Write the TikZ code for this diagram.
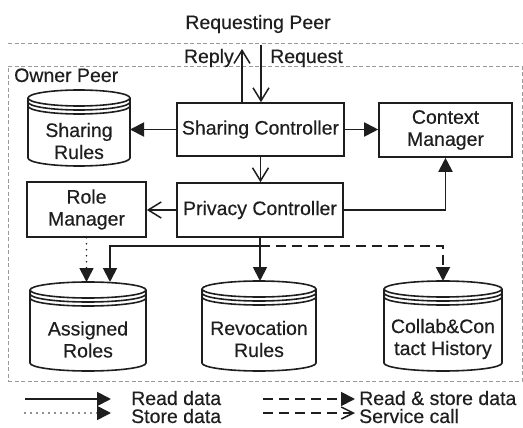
\documentclass[tikz,border=0pt]{standalone}
\usepackage{fontspec}
\setmainfont{Liberation Sans}[FakeBold=0.4]
\usetikzlibrary{arrows.meta}
\definecolor{ink}{HTML}{1E1E1E}
\definecolor{frame}{HTML}{9A9A9A}
\tikzset{
  txt/.style={font=\fontsize{19.5}{22}\selectfont, text=ink, inner sep=0pt, align=center},
  box/.style={draw=ink, line width=1.6pt, inner sep=0pt, font=\fontsize{19.5}{22}\selectfont, text=ink, align=center},
  dbnode/.style={draw=none, inner sep=0pt, outer sep=0pt},
  dbline/.style={draw=ink, line width=1.6pt},
  fillarrow/.style={draw=ink, line width=1.9pt, -{Triangle[length=14pt,width=14pt]}},
  openarrow/.style={draw=ink, line width=1.5pt, -{Straight Barb[length=13pt,width=16pt]}},
  plainline/.style={draw=ink, line width=1.9pt},
  dashline/.style={draw=ink, line width=1.9pt, dash pattern=on 10pt off 6pt},
  dotline/.style={draw=ink, line width=1.7pt, line cap=round, dash pattern=on 0pt off 6pt},
  framedash/.style={draw=frame, line width=0.7pt, dash pattern=on 4pt off 2.5pt},
}
\newcommand\dbcyl[6]{%
  \node[dbnode, minimum width=#4pt, minimum height=#5pt] (#1) at (#2,#3) {};
  \draw[dbline] ([yshift=-8pt]#1.north) ellipse [x radius={#4*0.5pt}, y radius=8pt];
  \draw[dbline] ([yshift=-12pt]#1.north west) arc [start angle=180, end angle=360, x radius={#4*0.5pt}, y radius=8pt];
  \draw[dbline] ([yshift=-16pt]#1.north west) arc [start angle=180, end angle=360, x radius={#4*0.5pt}, y radius=8pt];
  \draw[dbline] ([yshift=-8pt]#1.north west) -- ([yshift=8pt]#1.south west)
     arc [start angle=180, end angle=360, x radius={#4*0.5pt}, y radius=8pt] -- ([yshift=-8pt]#1.north east);
  \node[txt] (#1-t) at ([yshift=-13pt]#1.center) {#6};
}
\begin{document}
\begin{tikzpicture}[x=1pt,y=-1pt]
\useasboundingbox (0,0) rectangle (523,428);

% frames
\coordinate (sepL) at (8,43);
\coordinate (sepR) at (523,43);
\draw[framedash] (sepL) -- (sepR);
\node[draw=frame, line width=0.7pt, dash pattern=on 4pt off 2.5pt, minimum width=514pt, minimum height=315pt, inner sep=0pt] (owner) at (265,223.5) {};

% labels
\node[txt, anchor=base] (reqpeer) at (258,29) {Requesting Peer};
\node[txt, anchor=base west] (ownerlbl) at (14,82) {Owner Peer};
\node[txt, anchor=base east] (replylbl) at (234,63) {Reply};
\node[txt, anchor=base west] (requestlbl) at (270,63) {Request};

% boxes
\node[box, minimum width=167pt, minimum height=53pt] (SC) at (260.5,129.5) {Sharing Controller};
\node[box, minimum width=133pt, minimum height=54pt] (CM) at (445.5,130) {Context\\Manager};
\node[box, minimum width=166pt, minimum height=54pt] (PC) at (260,210) {Privacy Controller};
\node[box, minimum width=119pt, minimum height=55pt] (RM) at (86.5,209.5) {Role\\Manager};

% cylinders
\dbcyl{SR}{79}{128}{102}{76}{Sharing\\Rules}
\dbcyl{AR}{88}{326.5}{116}{89}{Assigned\\Roles}
\dbcyl{RR}{259}{326}{114}{90}{Revocation\\Rules}
\dbcyl{CH}{443}{326}{118}{90}{Collab\&Con\\tact History}

% request / reply
\coordinate (rep) at (242,49);
\coordinate (req) at (261,45);
\draw[openarrow] (SC.north -| rep) -- (rep);
\draw[openarrow] (req) -- (req |- SC.north);

% connectors
\draw[fillarrow] (SC.west) -- (SC.west -| SR.east);
\draw[fillarrow] (SC.east) -- (SC.east -| CM.west);
\draw[openarrow] (SC.south) -- (SC.south |- PC.north);
\draw[openarrow] (PC.west) -- (PC.west -| RM.east);
\draw[fillarrow] (PC.east) -| (CM.south);

\coordinate (br) at (260,246);
\draw[plainline] (PC.south) -- (br);
\draw[fillarrow] (br) -| ([xshift=22pt]AR.north);
\draw[fillarrow] (br) -- (br |- RR.north);
\draw[dashline, -{Triangle[length=14pt,width=14pt]}] (br) -| (CH.north);
\draw[dotline, -{Triangle[length=14pt,width=14pt]}] (RM.south) -- (RM.south |- AR.north);

% legend
\coordinate (l1a) at (25,399); \coordinate (l1b) at (111,399);
\coordinate (l2a) at (25,413); \coordinate (l2b) at (111,413);
\coordinate (l3a) at (263,399); \coordinate (l3b) at (355,399);
\coordinate (l4a) at (263,413); \coordinate (l4b) at (355,413);
\draw[fillarrow] (l1a) -- (l1b);
\draw[dotline, -{Triangle[length=14pt,width=14pt]}] (l2a) -- (l2b);
\draw[dashline, -{Triangle[length=14pt,width=14pt]}] (l3a) -- (l3b);
\draw[dashline, -{Straight Barb[length=12pt,width=12pt,line width=1.5pt]}] (l4a) -- (l4b);
\node[txt, anchor=base west] (lg1) at (131,405) {Read data};
\node[txt, anchor=base west] (lg2) at (131,423) {Store data};
\node[txt, anchor=base west] (lg3) at (359,405) {Read \& store data};
\node[txt, anchor=base west] (lg4) at (359,423) {Service call};
\end{tikzpicture}
\end{document}
